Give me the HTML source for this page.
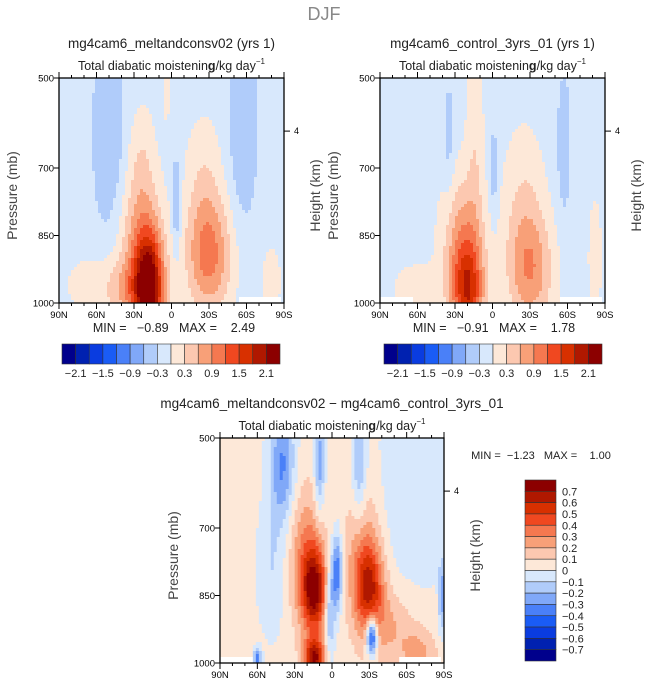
<!DOCTYPE html>
<html><head><meta charset="utf-8">
<style>
html,body{margin:0;padding:0;background:#fff}
svg{display:block;font-family:"Liberation Sans",sans-serif}
text{white-space:pre}
</style></head>
<body>
<svg id="fig" width="648" height="687" viewBox="0 0 648 687" xmlns="http://www.w3.org/2000/svg" xml:space="preserve">
<text x="324" y="20" font-size="18" fill="#888" text-anchor="middle">DJF</text>
</svg>
<script>
// ---- data ----
const palette = ['#00008c','#0021b0','#0a3ce0','#1a5cf5','#4a80f8','#80a8f8','#b0ccfa','#d8e8fc','#fde8d8','#fcc8b0','#f8a078','#f57850','#f04820','#d83000','#b01800','#8c0000'];
const levelsAbs = [-2.1,-1.8,-1.5,-1.2,-0.9,-0.6,-0.3,0,0.3,0.6,0.9,1.2,1.5,1.8,2.1];
const levelsDiff = [-0.7,-0.6,-0.5,-0.4,-0.3,-0.2,-0.1,0,0.1,0.2,0.3,0.4,0.5,0.6,0.7];
const absTickLabels = ['−2.1','−1.5','−0.9','−0.3','0.3','0.9','1.5','2.1'];
const diffTickLabels = ['0.7','0.6','0.5','0.4','0.3','0.2','0.1','0','−0.1','−0.2','−0.3','−0.4','−0.5','−0.6','−0.7'];
const latTicks = [90,60,30,0,-30,-60,-90];
const latTickLabels = ['90N','60N','30N','0','30S','60S','90S'];
const presTicks = [500,700,850,1000];
// blobs: [lat, pressure, amplitude, lat-width, pressure-width]
const base1 = -0.15;
const blobs1 = [[18,975,2.3,8,85],[24,880,0.9,12,110],[24,680,0.35,8,90],[-30,900,1.1,13,90],[-26,740,0.4,11,110],[50,620,-0.45,9,160],[-57,600,-0.45,8,160],[-4,780,-0.6,2.5,70],[62,960,0.3,18,50],[4,530,0.3,2,50],[-80,950,0.3,6,60],[35,975,0.5,12,50]];
const base2 = -0.15;
const blobs2 = [[20,980,1.6,9,85],[24,860,0.75,12,110],[14,620,0.35,5,180],[-30,930,0.95,13,90],[-25,770,0.4,12,120],[35,640,-0.3,3,100],[-57,650,-0.35,4,120],[-1,710,-0.4,2.5,70],[62,970,0.3,14,45],[-82,900,0.35,4,100]];
const base3 = 0.03;
const blobs3 = [[14,840,0.6,7,65],[20,770,0.3,10,110],[-30,830,0.45,8,65],[-25,760,0.25,10,110],[14,990,0.65,6,30],[-4,800,-0.45,3,60],[2,880,-0.3,3,80],[-32,940,-0.7,3,30],[40,560,-0.35,7,90],[10,560,-0.3,3,80],[-22,560,-0.25,4,100],[-65,620,-0.12,20,150],[48,790,-0.13,8,100],[-45,920,0.18,15,60],[-70,980,0.2,10,40],[60,990,-0.4,2,15],[-88,850,-0.3,1.5,60]];

const NS='http://www.w3.org/2000/svg';
const svg=document.getElementById('fig');
function mk(tag,attrs,parent){const e=document.createElementNS(NS,tag);for(const k in attrs)e.setAttribute(k,attrs[k]);(parent||svg).appendChild(e);return e;}
function field(base,blobs,lat,p){let v=base;for(const b of blobs){const dx=(lat-b[0])/b[3],dy=(p-b[1])/b[4];v+=b[2]*Math.exp(-0.5*(dx*dx+dy*dy));}return v;}
function colorIdx(v,levels){let i=0;while(i<levels.length&&v>=levels[i])i++;return i;}

function panel(cfg){
  const g=mk('g',{});
  
  
  const {x0,y0,w,h}=cfg;
  const xs=lat=>x0+(90-lat)/180*w;
  const ys=p=>y0+(p-500)/500*h;
  const N=75,cw=w/N,ch=h/N;
  for(let j=0;j<N;j++)for(let i=0;i<N;i++){
    const lat=90-(i+0.5)/N*180,p=500+(j+0.5)/N*500;
    let fill=palette[colorIdx(field(cfg.base,cfg.blobs,lat,p),cfg.levels)];
    if(p>985&&((lat<-55&&lat>-88)||(cfg.whiteN&&lat>63)))fill='#fff';
    const r=mk('rect',{x:(x0+i*cw).toFixed(2),y:(y0+j*ch).toFixed(2),width:(cw+0.4).toFixed(2),height:(ch+0.4).toFixed(2),fill:fill},g);
    
    
  }
  const fr=mk('rect',{x:x0,y:y0,width:w,height:h,fill:'none',stroke:'#000','stroke-width':1.3},g);
  
  
  for(let lat=90;lat>=-90;lat-=10){const X=xs(lat),L=(lat%30===0)?6:3;
    mk('line',{x1:X,y1:y0+h,x2:X,y2:y0+h+L,stroke:'#000'},g);mk('line',{x1:X,y1:y0,x2:X,y2:y0-L,stroke:'#000'},g);}
  latTicks.forEach((lat,k)=>{const t=mk('text',{x:xs(lat),y:y0+h+15,'font-size':9.5,'text-anchor':'middle'},g);t.textContent=latTickLabels[k];
    });
  presTicks.forEach(p=>{const Y=ys(p);mk('line',{x1:x0,y1:Y,x2:x0-5,y2:Y,stroke:'#000'},g);
    const t=mk('text',{x:x0-5,y:Y+3.5,'font-size':9.5,'text-anchor':'end'},g);t.textContent=p;
    });
  const Y4=y0+h*0.236;mk('line',{x1:x0+w,y1:Y4,x2:x0+w+6,y2:Y4,stroke:'#000'},g);
  const t4=mk('text',{x:x0+w+10,y:Y4+3,'font-size':9},g);t4.textContent='4';
  
  const yl=mk('text',{transform:`translate(${x0-42},${y0+h/2+5}) rotate(-90)`,'font-size':14,'text-anchor':'middle',fill:'#444'},g);yl.textContent='Pressure (mb)';
  
  const hl=mk('text',{transform:`translate(${x0+w+36},${y0+h/2+5}) rotate(-90)`,'font-size':14,'text-anchor':'middle',fill:'#444'},g);hl.textContent='Height (km)';
  
  const tt=mk('text',{x:x0+w/2,y:y0-30,'font-size':13.5,'text-anchor':'middle',fill:'#222'},g);tt.textContent=cfg.title;
  
  const st=mk('text',{x:x0+w/2,y:y0-8,'font-size':12.5,'text-anchor':'middle',fill:'#222'},g);
  st.innerHTML='Total diabatic moistenin<tspan font-weight="bold">g</tspan>/kg day<tspan font-size="8" dy="-6">−1</tspan>';
  
  return g;
}
panel({name:'panel-meltandconsv02',x0:59,y0:78,w:225,h:225,base:base1,blobs:blobs1,levels:levelsAbs,title:'mg4cam6_meltandconsv02 (yrs 1)'});
panel({name:'panel-control',x0:380,y0:78,w:225,h:225,base:base2,blobs:blobs2,levels:levelsAbs,title:'mg4cam6_control_3yrs_01 (yrs 1)',whiteN:true});
panel({name:'panel-difference',x0:220,y0:438,w:224,h:225,base:base3,blobs:blobs3,levels:levelsDiff,title:'mg4cam6_meltandconsv02 − mg4cam6_control_3yrs_01',whiteN:true});

function txt(x,y,s,size,anchor,name){const t=mk('text',{x:x,y:y,'font-size':size,'text-anchor':anchor||'start',fill:'#222'});t.textContent=s;
  return t;}
txt(174,332,'MIN =   −0.89   MAX =    2.49',12.5,'middle','min-max-label');
txt(494,332,'MIN =   −0.91   MAX =    1.78',12.5,'middle','min-max-label');
txt(541,459,'MIN =  −1.23   MAX =    1.00',11,'middle','min-max-label');

function hbar(x0,y0,w,h,name){const bw=w/16;
  palette.forEach((c,i)=>{const r=mk('rect',{x:x0+i*bw,y:y0,width:bw,height:h,fill:c,stroke:'#333','stroke-width':0.6});
    });
  absTickLabels.forEach((s,k)=>txt(x0+(2*k+1)*bw,y0+h+13,s,11,'middle','colorbar-label'));}
hbar(62,344,218,20);hbar(384,344,218,20);
(function(){const x0=525,y0=480,w=31,h=181,bh=h/16;
  palette.slice().reverse().forEach((c,i)=>{const r=mk('rect',{x:x0,y:y0+i*bh,width:w,height:bh,fill:c,stroke:'#333','stroke-width':0.6});
    });
  diffTickLabels.forEach((s,k)=>txt(x0+w+6,y0+(k+1)*bh+4,s,11,'start','colorbar-label'));})();
</script>
</body></html>
